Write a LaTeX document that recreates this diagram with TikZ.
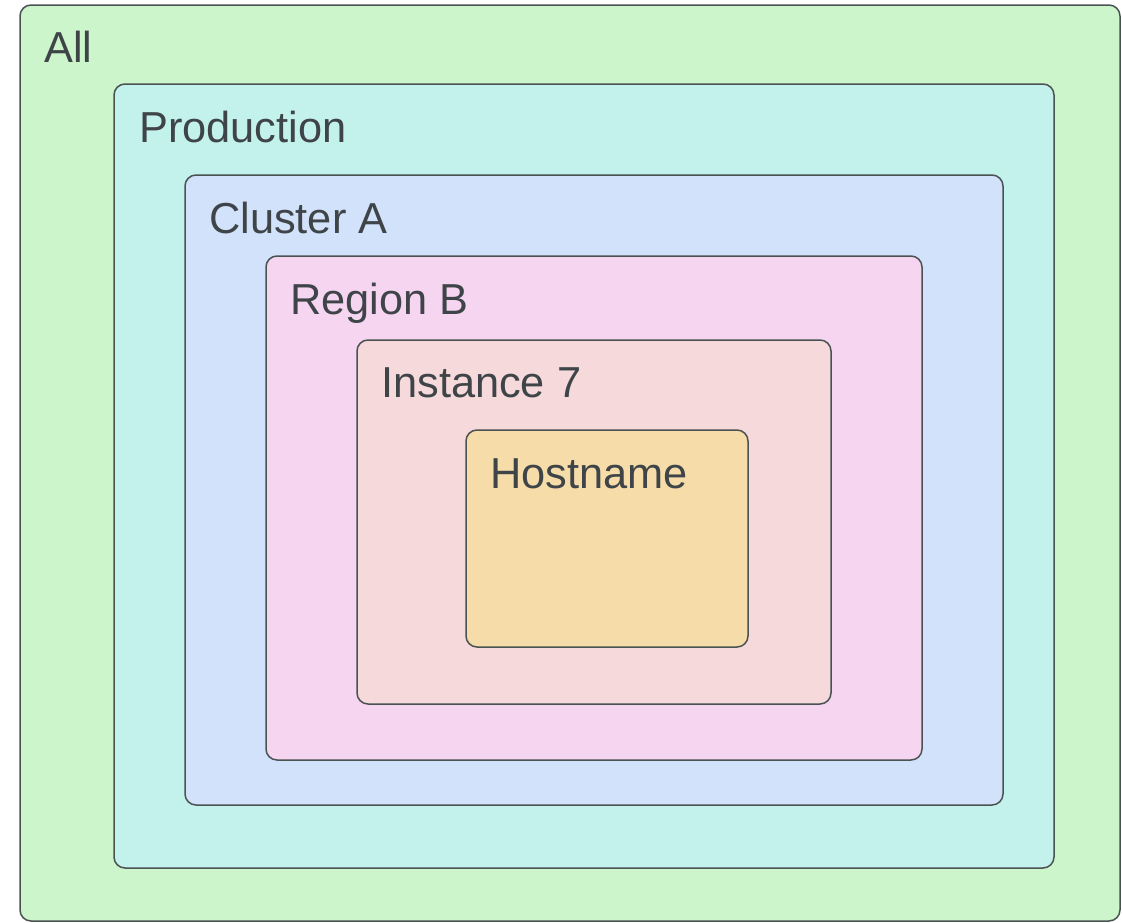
\documentclass[tikz,border=0pt]{standalone}
\usepackage{fontspec}
\setmainfont{Liberation Sans}
\definecolor{edge}{HTML}{4A5252}
\definecolor{ink}{HTML}{3E4448}
\definecolor{allfill}{HTML}{CDF5CC}
\definecolor{prodfill}{HTML}{C3F1EC}
\definecolor{clusterfill}{HTML}{D2E2FA}
\definecolor{regionfill}{HTML}{F6D5F1}
\definecolor{instfill}{HTML}{F6D9DA}
\definecolor{hostfill}{HTML}{F6DCA9}
\tikzset{
  layer/.style={draw=edge, line width=1.5bp, rounded corners=11bp},
  caption/.style={anchor=base west, inner sep=0pt, text=ink,
    font=\fontsize{43.5}{52}\selectfont}
}
\begin{document}
\begin{tikzpicture}[x=1bp, y=-1bp]
  \useasboundingbox (0,0) rectangle (1122,923);
  % nested scopes, outermost first
  \draw[layer, fill=allfill]     (20,5)    rectangle (1120,921);
  \draw[layer, fill=prodfill]    (114,84)  rectangle (1054,868);
  \draw[layer, fill=clusterfill] (185,175) rectangle (1003,805);
  \draw[layer, fill=regionfill]  (266,256) rectangle (922,760);
  \draw[layer, fill=instfill]    (357,340) rectangle (831,704);
  \draw[layer, fill=hostfill]    (466,430) rectangle (748,647);
  % scope labels
  \node[caption] (lall)     at (44,62)   {All};
  \node[caption] (lprod)    at (139,142) {Production};
  \node[caption] (lcluster) at (209,233) {Cluster A};
  \node[caption] (lregion)  at (290,314) {Region B};
  \node[caption] (linst)    at (381,397) {Instance 7};
  \node[caption] (lhost)    at (490,488) {Hostname};
\end{tikzpicture}
\end{document}
